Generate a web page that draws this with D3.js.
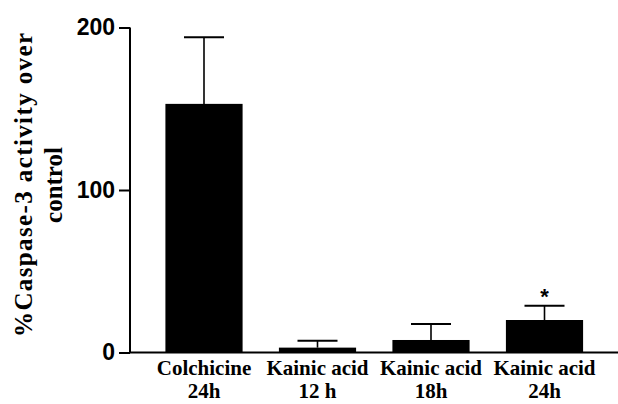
<!DOCTYPE html>
<html>
<head>
<meta charset="utf-8">
<script src="https://cdn.jsdelivr.net/npm/d3@7/dist/d3.min.js"></script>
<style>
  html, body { margin: 0; padding: 0; background: #fff; }
  svg { display: block; }
  .serif { font-family: 'Liberation Serif', 'DejaVu Serif', 'Times New Roman', serif; font-weight: bold; }
  .sans { font-family: 'Liberation Sans', Arial, sans-serif; font-weight: bold; }
</style>
</head>
<body>
<svg id="chart" width="618" height="404"></svg>
<script>
const categories = ["Colchicine|24h", "Kainic acid|12 h", "Kainic acid|18h", "Kainic acid|24h"];
const means = [153, 3, 7.7, 20];
const errors = [41, 4.3, 9.8, 8.8];
const significant = [false, false, false, true];
const yTicks = [0, 100, 200];
const yTitle = ["%Caspase-3 activity over", "control"];

const svg = d3.select("#chart");
const W = 618, H = 404;
const axisX = 130, axisY = 352.5;

const y = d3.scaleLinear().domain([0, 200]).range([352.5, 27.5]);
const x = d3.scaleBand().domain(categories).range([147.25, 601.25])
  .paddingInner(0.32).paddingOuter(0.16);

// bars
svg.selectAll("rect.bar").data(categories).enter().append("rect")
  .attr("class", "bar")
  .attr("x", d => x(d))
  .attr("width", x.bandwidth())
  .attr("y", (d, i) => y(means[i]))
  .attr("height", (d, i) => y(0) - y(means[i]))
  .attr("fill", "#000");

// error bars (upper only)
const capW = 40;
categories.forEach((c, i) => {
  const cx = x(c) + x.bandwidth() / 2;
  svg.append("line")
    .attr("x1", cx).attr("x2", cx)
    .attr("y1", y(means[i])).attr("y2", y(means[i] + errors[i]))
    .attr("stroke", "#000").attr("stroke-width", 1.6);
  svg.append("line")
    .attr("x1", cx - capW / 2).attr("x2", cx + capW / 2)
    .attr("y1", y(means[i] + errors[i])).attr("y2", y(means[i] + errors[i]))
    .attr("stroke", "#000").attr("stroke-width", 2);
  if (significant[i]) {
    svg.append("text")
      .attr("class", "sans")
      .attr("x", cx).attr("y", y(means[i] + errors[i]) - 2)
      .attr("text-anchor", "middle")
      .attr("font-size", 22)
      .text("*");
  }
});

// y axis
const yAxis = d3.axisLeft(y).tickValues(yTicks).tickSize(11).tickPadding(4).tickFormat(d3.format("d"));
const gy = svg.append("g").attr("transform", `translate(${axisX},0)`).call(yAxis);
gy.select(".domain").attr("stroke-width", 2).attr("d", `M0,${y(200)}V${y(0)}`);
gy.selectAll(".tick line").attr("stroke-width", 2);
gy.selectAll(".tick text")
  .attr("class", "sans")
  .attr("font-size", 23)
  .attr("font-family", null)
  .attr("fill", "#000");
gy.attr("font-family", null).attr("font-size", null);

// x axis line
svg.append("line")
  .attr("x1", axisX - 1).attr("x2", W)
  .attr("y1", axisY).attr("y2", axisY)
  .attr("stroke", "#000").attr("stroke-width", 2);

// x category labels
categories.forEach(c => {
  const cx = x(c) + x.bandwidth() / 2;
  const parts = c.split("|");
  const t = svg.append("text")
    .attr("class", "serif")
    .attr("text-anchor", "middle")
    .attr("font-size", 21)
    .attr("fill", "#000");
  t.append("tspan").attr("x", cx).attr("y", 375).text(parts[0]);
  t.append("tspan").attr("x", cx).attr("y", 398).text(parts[1]);
});

// y title
const yt = svg.append("text")
  .attr("class", "serif")
  .attr("transform", "rotate(-90)")
  .attr("text-anchor", "middle")
  .attr("font-size", 25)
  .attr("fill", "#000");
yt.append("tspan").attr("x", -185).attr("y", 32).attr("textLength", 304).attr("lengthAdjust", "spacing").text(yTitle[0]);
yt.append("tspan").attr("x", -185).attr("y", 62).text(yTitle[1]);
</script>
</body>
</html>
